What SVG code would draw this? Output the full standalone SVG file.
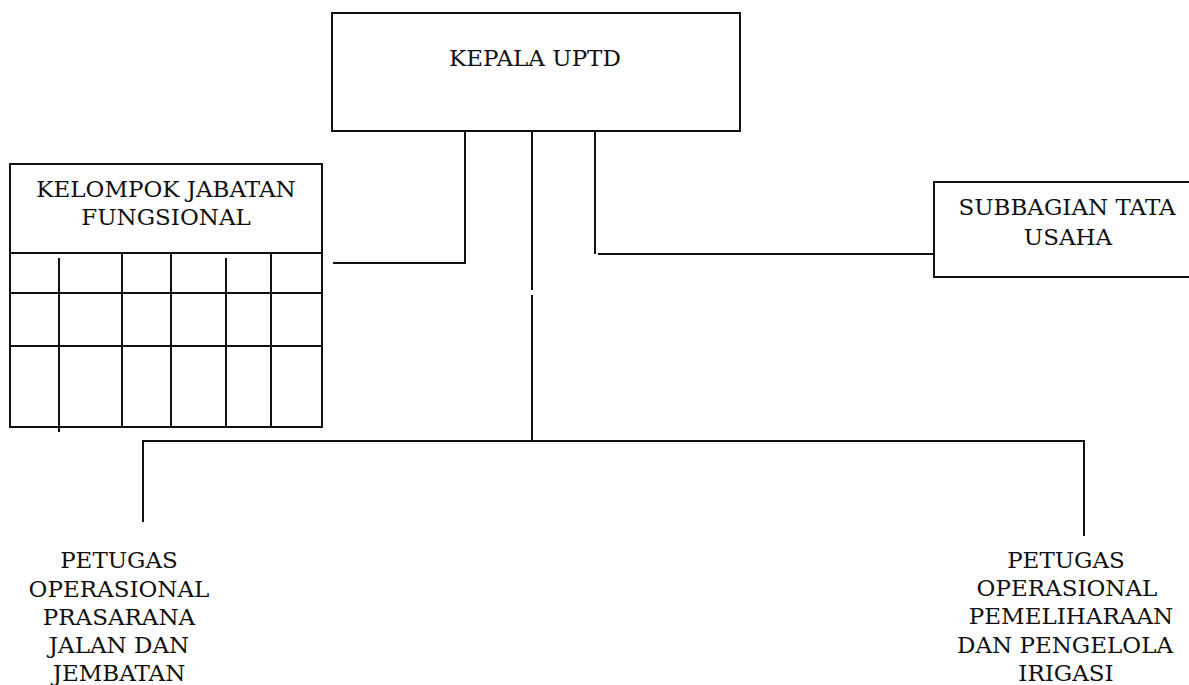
<svg xmlns="http://www.w3.org/2000/svg" width="1189" height="685" viewBox="0 0 1189 685">
<style>
.box{fill:#fff;stroke:#111;stroke-width:2}
.ln{fill:none;stroke:#111;stroke-width:2}
text{font-family:"DejaVu Serif","Liberation Serif",serif;font-size:23px;fill:#111;text-anchor:middle}
</style>
<rect width="1189" height="685" fill="#fff"/>
<g id="kepala">
<rect class="box" x="332" y="13" width="408" height="118"/>
<text x="535" y="66">KEPALA UPTD</text>
</g>
<g id="kelompok">
<rect class="box" x="10" y="164" width="312" height="263"/>
<text x="166" y="197">KELOMPOK JABATAN</text>
<text x="166" y="225">FUNGSIONAL</text>
<path class="ln" d="M10 253H322M10 293H322M10 346H322M59 258V432M122 253V427M171 253V427M226 258V427M271 253V427"/>
</g>
<g id="subbagian">
<rect class="box" x="934" y="182" width="256" height="95"/>
<text x="1067" y="215">SUBBAGIAN TATA</text>
<text x="1068" y="245">USAHA</text>
</g>
<g id="petugas-jalan">
<text x="119" y="568">PETUGAS</text>
<text x="119" y="597">OPERASIONAL</text>
<text x="119" y="625">PRASARANA</text>
<text x="119" y="653">JALAN DAN</text>
<text x="119" y="681">JEMBATAN</text>
</g>
<g id="petugas-irigasi">
<text x="1066" y="568">PETUGAS</text>
<text x="1067" y="596">OPERASIONAL</text>
<text x="1071" y="624">PEMELIHARAAN</text>
<text x="1065" y="653">DAN PENGELOLA</text>
<text x="1066" y="681">IRIGASI</text>
</g>
<g id="connectors">
<path class="ln" d="M465 131V263H333"/>
<path class="ln" d="M595 131V254"/>
<path class="ln" d="M598 254H934"/>
<path class="ln" d="M532 131V290M532 295V441"/>
<path class="ln" d="M143 522V441H1084V536"/>
</g>
</svg>
